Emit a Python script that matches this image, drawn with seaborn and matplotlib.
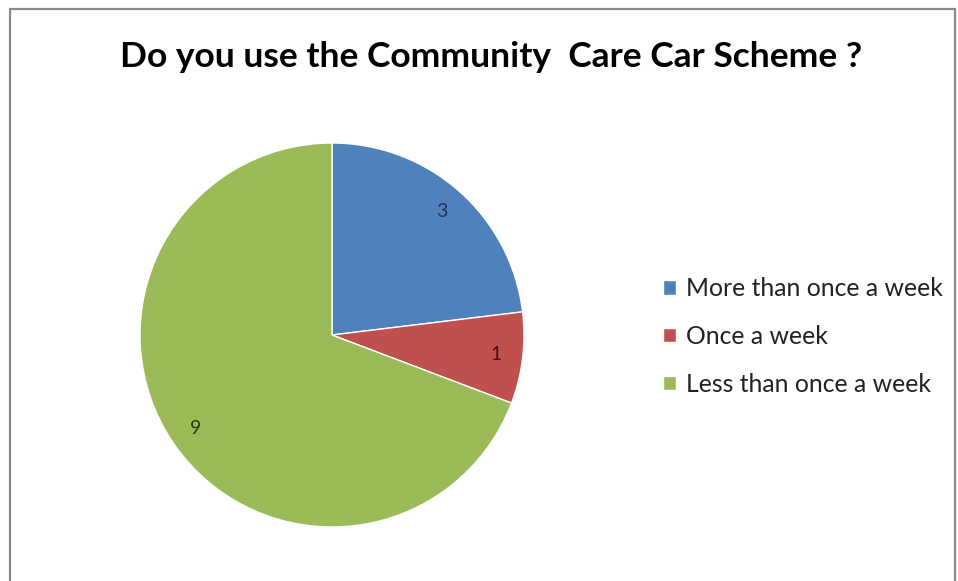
import matplotlib
matplotlib.use("Agg")
import matplotlib.pyplot as plt
import seaborn as sns
from matplotlib.patches import Rectangle

categories = ["More than once a week", "Once a week", "Less than once a week"]
values = [3, 1, 9]
colors = ["#4F81BD", "#C0504D", "#9BBB59"]
label_colors = ["#1C3557", "#3B1212", "#2B3A12"]
title = "Do you use the Community  Care Car Scheme ?"

sns.set_theme(style="white")
plt.rcParams["font.family"] = ["Lato", "DejaVu Sans"]

W, H = 958, 581
fig = plt.figure(figsize=(W / 100, H / 100), dpi=100)
fig.patch.set_facecolor("white")

cx, cy, r = 332, 335, 192
ax = fig.add_axes([(cx - r) / W, 1 - (cy + r) / H, 2 * r / W, 2 * r / H])

palette = sns.color_palette(colors)
total = sum(values)
wedges, texts, autotexts = ax.pie(
    values, colors=palette, startangle=90, counterclock=False,
    autopct=lambda p: f"{round(p * total / 100):d}", pctdistance=0.86,
    textprops=dict(fontsize=14),
)
for t, c in zip(autotexts, label_colors):
    t.set_color(c)
ax.set_xlim(-1, 1)
ax.set_ylim(-1, 1)
ax.set_aspect("equal")
ax.axis("off")

fig.text(491 / W, 1 - 57 / H, title, ha="center", va="center",
         fontsize=25.5, fontweight="bold", color="black")

leg = fig.legend(wedges, categories, loc="upper left",
                 bbox_to_anchor=(641 / W, 1 - 255 / H), frameon=False,
                 fontsize=17.8, handlelength=0.5, handleheight=0.5,
                 handletextpad=0.4, labelspacing=1.0)
for t in leg.get_texts():
    t.set_color("#222222")

fig.patches.append(Rectangle((9.5 / W, -0.1), (955 - 9.5) / W, 1.1 - 9.5 / H,
                             transform=fig.transFigure, fill=False,
                             edgecolor="#8a8a8a", linewidth=1.6))

fig.savefig("out.png", dpi=100, facecolor="white")
